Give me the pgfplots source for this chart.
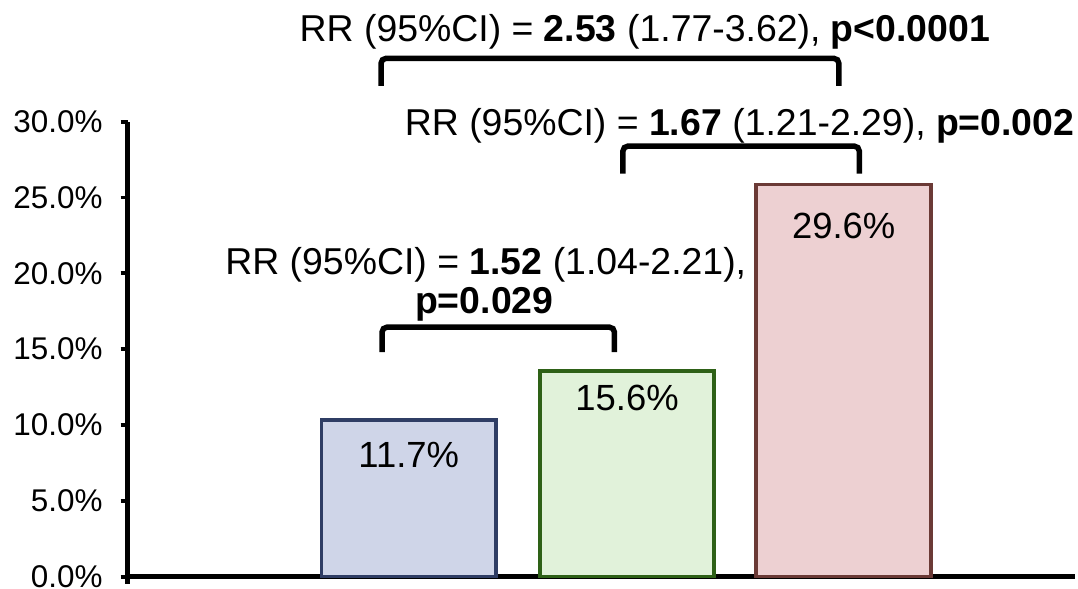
\documentclass[border=0pt]{standalone}
\usepackage{pgfplots}
\pgfplotsset{compat=1.18}
\usepackage{fontspec}
\setmainfont{Liberation Sans}
\definecolor{bonefill}{RGB}{207,213,232}
\definecolor{boneline}{RGB}{47,61,100}
\definecolor{btwofill}{RGB}{225,242,218}
\definecolor{btwoline}{RGB}{46,97,23}
\definecolor{bthreefill}{RGB}{237,208,210}
\definecolor{bthreeline}{RGB}{107,58,54}
\begin{document}
\begin{tikzpicture}
\begin{axis}[
  scale only axis, width=950pt, height=456pt,
  xmin=128, xmax=1078, ymin=0, ymax=30,
  axis x line=bottom, axis y line=left,
  axis line style={line width=5.5pt,-},
  xtick=\empty,
  ytick={0,5,10,15,20,25,30},
  ytick align=outside, major tick length=7pt,
  tick style={line width=4pt, black},
  yticklabel={\pgfmathprintnumber[fixed,fixed zerofill,precision=1]{\tick}\%},
  yticklabel style={font=\fontsize{31.5}{36}\selectfont, /pgf/number format/assume math mode=true, inner xsep=0pt, inner ysep=0pt, xshift=-18pt},
  ybar, bar width=175,
  clip=false,
]
\addplot[bar shift=0pt, fill=bonefill, draw=boneline, line width=3.8pt] coordinates {(409.8,10.3)};
\addplot[bar shift=0pt, fill=btwofill, draw=btwoline, line width=3.8pt] coordinates {(628.7,13.57)};
\addplot[bar shift=0pt, fill=bthreefill, draw=bthreeline, line width=3.8pt] coordinates {(845.8,25.86)};
\end{axis}
\begin{scope}[shift={(-128pt,578pt)}, x=1pt, y=-1pt]
  \path[use as bounding box] (0,0) rectangle (1078,590);
  \draw[line width=5.5pt] (128,576) -- (128,585);
  \fontsize{36.5}{42}\selectfont
  \node[anchor=base] at (409.8,469) {11.7\%};
  \node[anchor=base] at (628.7,412) {15.6\%};
  \node[anchor=base] at (845.8,239) {29.6\%};
  \draw[line width=5.5pt, rounded corners=5pt] (382,86) -- (382,58.5) -- (841,58.5) -- (841,86);
  \draw[line width=5.5pt, rounded corners=5pt] (624.5,174) -- (624.5,146.5) -- (861.5,146.5) -- (861.5,174);
  \draw[line width=5.5pt, rounded corners=5pt] (383,353) -- (383,328) -- (616,328) -- (616,353);
  \fontsize{37.5}{43}\selectfont
  \node[anchor=base, inner sep=0pt] at (646.5,42) {RR (95\%CI) = \textbf{2.53} (1.77-3.62), \textbf{p<0.0001}};
  \node[anchor=base, inner sep=0pt] at (741.5,136) {RR (95\%CI) = \textbf{1.67} (1.21-2.29), \textbf{p=0.002}};
  \node[anchor=base, inner sep=0pt] at (487,275) {RR (95\%CI) = \textbf{1.52} (1.04-2.21),};
  \node[anchor=base, inner sep=0pt] at (485.5,314) {\textbf{p=0.029}};
\end{scope}
\end{tikzpicture}
\end{document}
